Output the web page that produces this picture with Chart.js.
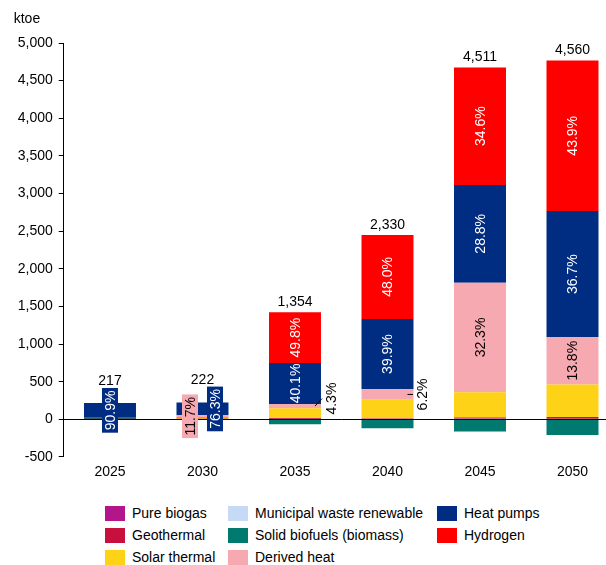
<!DOCTYPE html>
<html>
<head>
<meta charset="utf-8">
<script src="https://cdn.jsdelivr.net/npm/chart.js@4.4.1/dist/chart.umd.min.js"></script>
<style>
  html, body { margin: 0; padding: 0; background: #fff; }
  body { width: 606px; height: 565px; overflow: hidden; position: relative; font-family: Arial, "Liberation Sans", sans-serif; }
  #chart { position: absolute; left: 0; top: 0; }
  .lg { position: absolute; font-size: 14px; color: #000; white-space: nowrap; line-height: 15px; }
  .lg i { position: absolute; left: 0; top: 0; width: 20px; height: 15px; }
  .lg span { position: absolute; left: 27px; top: 0; }
</style>
</head>
<body>
<canvas id="chart" width="620" height="495"></canvas>
<div id="legend"></div>
<script>
// ---- data (ktoe) ----
const years = ['2025', '2030', '2035', '2040', '2045', '2050'];
const pureBiogas     = [0, 0, 4, 0, 10, 0];
const geothermal     = [3, 4, 8, 15, 14, 30];
const solarThermal   = [0, 16, 134, 243, 334, 433];
const municipalWaste = [0, 0, 0, 0, 0, 0];
const solidBiofuels  = [17, 7, -67, -120, -164, -208];
const derivedHeat    = [0, 26, 58, 144, 1457, 629];
const heatPumps      = [197, 169, 543, 930, 1299, 1674];
const hydrogen       = [0, 0, 674, 1118, 1561, 2002];
const totals         = [217, 222, 1354, 2330, 4511, 4560];
const shareHeatPumps = ['90.9%', '76.3%', '40.1%', '39.9%', '28.8%', '36.7%'];
const shareHydrogen  = [null, null, '49.8%', '48.0%', '34.6%', '43.9%'];
const shareDerived   = [null, '11.7%', '4.3%', '6.2%', '32.3%', '13.8%'];
const yTicks = { min: -500, max: 5000, step: 500 };

const FONT = { family: 'Arial, "Liberation Sans", sans-serif', size: 14 };

const barLabels = {
  id: 'barLabels',
  afterDatasetsDraw(chart, args, opts) {
    const ctx = chart.ctx, area = chart.chartArea, ya = chart.scales.y;
    ctx.save();
    // zero line across the plot
    const y0 = Math.round(ya.getPixelForValue(0)) + 0.5;
    ctx.strokeStyle = '#000'; ctx.lineWidth = 1;
    ctx.beginPath(); ctx.moveTo(area.left, y0); ctx.lineTo(area.right, y0); ctx.stroke();

    ctx.font = FONT.size + 'px ' + FONT.family;
    ctx.fillStyle = '#000'; ctx.textAlign = 'left'; ctx.textBaseline = 'middle';
    ctx.fillText(opts.unit, area.left - 50, 19);

    const boxTop = years.map(() => Infinity);
    chart.data.datasets.forEach((ds, di) => {
      const share = opts.shares[ds.label];
      if (!share) return;
      const meta = chart.getDatasetMeta(di);
      share.forEach((txt, j) => {
        if (!txt) return;
        const bar = meta.data[j].getProps(['x', 'y', 'base', 'width'], true);
        const half = bar.width / 2;
        const segY = (bar.y + bar.base) / 2;
        const segH = Math.abs(bar.base - bar.y);
        const sh = (opts.shift[ds.label] || [])[j] || [0, 0];
        const x = bar.x + sh[0], y = segY + sh[1];
        const w = ctx.measureText(txt).width;
        const outside = Math.abs(sh[0]) > half;
        let color;
        if (outside) {
          ctx.beginPath();
          ctx.moveTo(bar.x + half - 6, segY);
          ctx.lineTo(x - 9, y);
          ctx.strokeStyle = '#000'; ctx.stroke();
          color = '#000';
        } else {
          if (segH < 25) {
            ctx.fillStyle = ds.backgroundColor;
            ctx.fillRect(x - 8, y - w / 2 - 2.5, 16, w + 5);
            boxTop[j] = Math.min(boxTop[j], y - w / 2 - 2.5);
          }
          color = opts.textColor[ds.label];
        }
        ctx.save();
        ctx.translate(x, y);
        ctx.rotate(-Math.PI / 2);
        ctx.fillStyle = color; ctx.textAlign = 'center'; ctx.textBaseline = 'middle';
        ctx.fillText(txt, 0, 1);
        ctx.restore();
      });
    });

    // totals above each stack
    ctx.fillStyle = '#000'; ctx.textAlign = 'center'; ctx.textBaseline = 'alphabetic';
    totals.forEach((t, j) => {
      let top = Infinity, x = 0;
      chart.data.datasets.forEach((ds, di) => {
        const el = chart.getDatasetMeta(di).data[j];
        x = el.x;
        if (ds.data[j] > 0) top = Math.min(top, el.y);
      });
      const y = Math.min(top - 6, boxTop[j] - 3);
      ctx.fillText(t.toLocaleString('en-US'), x, y);
    });
    ctx.restore();
  }
};

const chart = new Chart(document.getElementById('chart'), {
  type: 'bar',
  data: {
    labels: years,
    datasets: [
      { label: 'Pure biogas', data: pureBiogas, backgroundColor: '#B3168B' },
      { label: 'Geothermal', data: geothermal, backgroundColor: '#C8103E' },
      { label: 'Solar thermal', data: solarThermal, backgroundColor: '#FED216' },
      { label: 'Municipal waste renewable', data: municipalWaste, backgroundColor: '#C6D9F7' },
      { label: 'Solid biofuels (biomass)', data: solidBiofuels, backgroundColor: '#007A6E' },
      { label: 'Derived heat', data: derivedHeat, backgroundColor: '#F7A9B2' },
      { label: 'Heat pumps', data: heatPumps, backgroundColor: '#002C82' },
      { label: 'Hydrogen', data: hydrogen, backgroundColor: '#FF0000' }
    ]
  },
  options: {
    responsive: false,
    animation: false,
    devicePixelRatio: 1,
    layout: { padding: { left: 11.7, right: 1.25, top: 43, bottom: 7.3 } },
    datasets: { bar: { barPercentage: 0.562, categoryPercentage: 1, borderWidth: 0 } },
    scales: {
      x: {
        stacked: true,
        grid: { display: false, drawTicks: false },
        border: { display: false },
        ticks: { color: '#000', font: FONT, padding: 7 }
      },
      y: {
        stacked: true,
        min: yTicks.min, max: yTicks.max,
        ticks: { stepSize: yTicks.step, color: '#000', font: FONT, padding: 6,
                 callback: v => v.toLocaleString('en-US') },
        grid: { display: true, drawOnChartArea: false, drawTicks: true, tickLength: 5, color: '#000' },
        border: { display: true, color: '#000' }
      }
    },
    plugins: {
      legend: { display: false },
      tooltip: { enabled: false },
      barLabels: {
        unit: 'ktoe',
        shares: { 'Heat pumps': shareHeatPumps, 'Hydrogen': shareHydrogen, 'Derived heat': shareDerived },
        textColor: { 'Heat pumps': '#fff', 'Hydrogen': '#fff', 'Derived heat': '#000' },
        shift: {
          'Heat pumps': [null, [12.5, 0]],
          'Derived heat': [null, [-12.5, 0], [36, -7.5], [34.5, 0]]
        }
      }
    }
  },
  plugins: [barLabels]
});

// legend laid out column by column, like the original
const legend = document.getElementById('legend');
const colX = [105, 228, 437];
chart.data.datasets.forEach((ds, i) => {
  const item = document.createElement('div');
  item.className = 'lg';
  item.style.left = colX[Math.floor(i / 3)] + 'px';
  item.style.top = (506 + (i % 3) * 22) + 'px';
  item.innerHTML = '<i style="background:' + ds.backgroundColor + '"></i><span>' + ds.label + '</span>';
  legend.appendChild(item);
});
</script>
</body>
</html>
